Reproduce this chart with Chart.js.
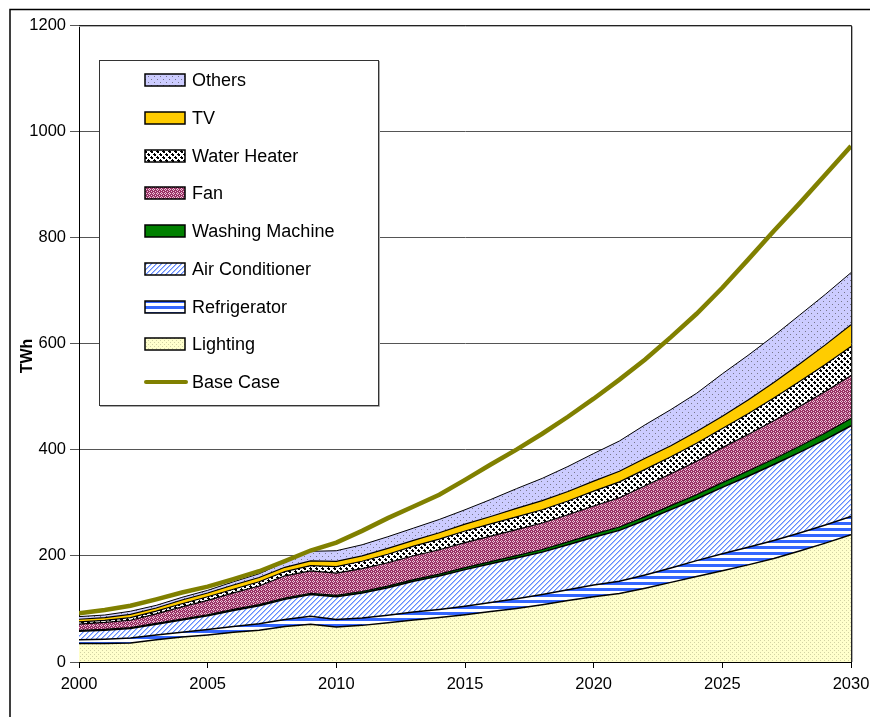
<!DOCTYPE html>
<html>
<head>
<meta charset="utf-8">
<script src="https://cdn.jsdelivr.net/npm/chart.js@4"></script>
<style>
  html, body { margin: 0; padding: 0; background: #fff; }
  #wrap { position: relative; width: 870px; height: 717px; }
</style>
</head>
<body>
<div id="wrap"><canvas id="myChart" width="870" height="717"></canvas></div>
<script>
// electricity use by end use, TWh per year
const years = [2000, 2001, 2002, 2003, 2004, 2005, 2006, 2007, 2008, 2009, 2010,
  2011, 2012, 2013, 2014, 2015, 2016, 2017, 2018, 2019, 2020,
  2021, 2022, 2023, 2024, 2025, 2026, 2027, 2028, 2029, 2030];

const lighting = [35, 35, 36, 42, 47, 51, 56, 60, 67, 71, 66, 69, 74, 79, 84, 89, 95, 101, 108, 116, 123, 129, 139, 150, 161, 172, 183, 195, 209, 224, 240];
const refrigerator = [7, 8, 9, 9, 9, 10, 11, 12, 13, 15, 14, 14, 14, 15, 15, 16, 17, 18, 19, 20, 22, 23, 25, 27, 30, 32, 33, 34, 34, 34, 34];
const airConditioner = [16, 17, 18, 20, 23, 26, 30, 34, 38, 41, 43, 47, 52, 58, 63, 69, 73, 77, 80, 85, 90, 96, 103, 110, 116, 125, 134, 143, 152, 161, 171];
const washingMachine = [1.5, 1.5, 1.6, 1.7, 1.8, 2.0, 2.1, 2.2, 2.4, 2.5, 2.6, 2.8, 3.0, 3.2, 3.5, 3.8, 4.1, 4.5, 4.9, 5.3, 5.8, 6.3, 6.9, 7.5, 8.2, 8.9, 9.7, 10.5, 11.4, 12.4, 13.5];
const fan = [12, 13, 14, 18, 23, 27, 31, 35, 42, 42, 42, 43, 44, 45, 46, 47, 48, 49, 50, 51, 53, 55, 58, 60, 63, 66, 69, 72, 75, 78, 81];
const waterHeater = [4, 4, 5, 5, 6, 7, 7, 8, 8, 10, 12, 14, 16, 18, 20, 22, 23, 24, 25, 26, 28, 30, 31, 32, 34, 36, 39, 43, 47, 51, 55];
const tv = [5, 5, 6, 6, 7, 7, 8, 8, 8, 9, 10, 10, 11, 11, 12, 13, 14, 16, 17, 18, 19, 20, 21, 21, 22, 23, 26, 29, 33, 37, 41];
const others = [5, 5, 6, 5, 5, 5, 6, 7, 10, 18, 20, 21, 22, 23, 25, 27, 32, 37, 42, 47, 52, 57, 63, 68, 72, 80, 84, 88, 92, 95, 98];
const baseCase = [92, 98, 106, 118, 131, 142, 156, 171, 190, 210, 225, 247, 271, 293, 315, 343, 372, 400, 430, 462, 496, 532, 570, 612, 656, 705, 758, 812, 864, 918, 972];

const yTicks = [0, 200, 400, 600, 800, 1000, 1200];
const xTicks = [2000, 2005, 2010, 2015, 2020, 2025, 2030];

const FONT = 'Arial, "Liberation Sans", sans-serif';
const canvas = document.getElementById("myChart");
const ctx = canvas.getContext("2d");

// small tiles used as hatch fills; each cell is [x, y, w, h, colour]
function tile(w, h, bg, cells) {
  const c = document.createElement("canvas");
  c.width = w; c.height = h;
  const g = c.getContext("2d");
  g.fillStyle = bg;
  g.fillRect(0, 0, w, h);
  cells.forEach(p => {
    g.fillStyle = p[4];
    g.fillRect(p[0], p[1], p[2], p[3]);
  });
  return ctx.createPattern(c, "repeat");
}

function px(list, colour) {
  return list.map(p => [p[0], p[1], p[2] || 1, p[3] || 1, colour]);
}

const fills = {
  lighting: tile(4, 4, "#FFFFCC", px([[0, 0], [2, 2]], "#D2D2A4")),
  refrigerator: tile(4, 6, "#FFFFFF", px([[0, 0, 4, 3]], "#3366FF")),
  airConditioner: tile(5, 5, "#FFFFFF",
    px([[4, 0], [3, 1], [2, 2], [1, 3], [0, 4]], "#628AFF").concat(
    px([[0, 0], [4, 1], [3, 2], [2, 3], [1, 4]], "#ABC2FF"))),
  washingMachine: "#008000",
  fan: tile(4, 4, "#993366", px([[1, 0], [0, 1], [2, 1], [1, 2], [3, 3]], "#EEC4D8")),
  waterHeater: tile(6, 6, "#FFFFFF",
    px([[1, 0], [0, 1, 3, 1], [1, 2], [2, 2], [4, 3], [3, 4, 3, 1], [4, 5], [5, 5]], "#000000")),
  tv: "#FFCC00",
  others: tile(6, 6, "#CCCCFF", px([[1, 1], [4, 4]], "#77778A"))
};

const stackSeries = [
  { label: "Lighting", values: lighting, fill: fills.lighting, border: 1.5 },
  { label: "Refrigerator", values: refrigerator, fill: fills.refrigerator, border: 1.5 },
  { label: "Air Conditioner", values: airConditioner, fill: fills.airConditioner, border: 1.5 },
  { label: "Washing Machine", values: washingMachine, fill: fills.washingMachine, border: 1.2 },
  { label: "Fan", values: fan, fill: fills.fan, border: 1.2 },
  { label: "Water Heater", values: waterHeater, fill: fills.waterHeater, border: 1.2 },
  { label: "TV", values: tv, fill: fills.tv, border: 1.2 },
  { label: "Others", values: others, fill: fills.others, border: 1 }
];

const datasets = stackSeries.map((s, i) => ({
  label: s.label,
  data: years.map((yr, j) => ({ x: yr, y: s.values[j] })),
  backgroundColor: s.fill,
  borderColor: "#000",
  borderWidth: s.border,
  pointRadius: 0,
  tension: 0,
  fill: i === 0 ? "origin" : "-1",
  stack: "enduse"
}));

datasets.push({
  label: "Base Case",
  data: years.map((yr, j) => ({ x: yr, y: baseCase[j] })),
  borderColor: "#808000",
  backgroundColor: "#808000",
  borderWidth: 4.5,
  pointRadius: 0,
  tension: 0,
  fill: false,
  stack: "base",
  order: -1
});

const legendOrder = ["Others", "TV", "Water Heater", "Fan", "Washing Machine",
  "Air Conditioner", "Refrigerator", "Lighting", "Base Case"];

// outer frame, plot border and the boxed legend
const decor = {
  id: "decor",
  beforeDraw(chart) {
    const c = chart.ctx;
    c.save();
    c.strokeStyle = "#000";
    c.lineWidth = 1.5;
    c.beginPath();
    c.moveTo(10, 717); c.lineTo(10, 9.5); c.lineTo(870, 9.5);
    c.stroke();
    c.restore();
  },
  afterDraw(chart) {
    const c = chart.ctx;
    const a = chart.chartArea;
    c.save();
    // plot area border (top & right)
    c.strokeStyle = "#B0B0B0";
    c.lineWidth = 1;
    c.beginPath();
    c.moveTo(a.left, a.top + 1.5); c.lineTo(a.right + 1.5, a.top + 1.5); c.lineTo(a.right + 1.5, a.bottom);
    c.stroke();
    c.strokeStyle = "#222";
    c.beginPath();
    c.moveTo(a.left, a.top + 0.5); c.lineTo(a.right + 0.5, a.top + 0.5); c.lineTo(a.right + 0.5, a.bottom);
    c.stroke();

    // legend box
    const bx = 99, by = 60, bw = 279, bh = 345;
    c.fillStyle = "#fff";
    c.fillRect(bx, by, bw, bh);
    c.strokeStyle = "#AAA";
    c.beginPath();
    c.moveTo(bx + bw + 1.5, by + 1); c.lineTo(bx + bw + 1.5, by + bh + 1.5); c.lineTo(bx + 1, by + bh + 1.5);
    c.stroke();
    c.strokeStyle = "#333";
    c.strokeRect(bx + 0.5, by + 0.5, bw, bh);

    c.font = "18px " + FONT;
    c.textBaseline = "middle";
    c.textAlign = "left";
    legendOrder.forEach((name, i) => {
      const ds = chart.data.datasets.find(d => d.label === name);
      const cy = Math.round(80 + i * 37.75);
      if (name === "Base Case") {
        c.strokeStyle = ds.borderColor;
        c.lineWidth = 4;
        c.lineCap = "round";
        c.beginPath();
        c.moveTo(146, cy); c.lineTo(186, cy);
        c.stroke();
        c.lineCap = "butt";
      } else {
        c.fillStyle = ds.backgroundColor;
        c.fillRect(145, cy - 6, 40, 12);
        c.strokeStyle = "#000";
        c.lineWidth = 1.5;
        c.strokeRect(145, cy - 6, 40, 12);
      }
      c.fillStyle = "#000";
      c.fillText(name, 192, cy + 1);
    });

    // axis title
    c.save();
    c.translate(28, 356);
    c.rotate(-Math.PI / 2);
    c.font = "bold 16px " + FONT;
    c.textAlign = "center";
    c.textBaseline = "middle";
    c.fillText("TWh", 0, 0);
    c.restore();
    c.restore();
  }
};

new Chart(canvas, {
  type: "line",
  data: { datasets },
  plugins: [decor],
  options: {
    responsive: false,
    animation: false,
    layout: { padding: { top: 25, right: 19, left: 0, bottom: 0 } },
    plugins: { legend: { display: false }, tooltip: { enabled: false } },
    scales: {
      x: {
        type: "linear",
        min: 2000,
        max: 2030,
        afterBuildTicks: s => { s.ticks = xTicks.map(v => ({ value: v })); },
        afterFit: s => { s.height = 55; s.paddingLeft = 0; s.paddingRight = 0; },
        ticks: {
          callback: v => String(v),
          color: "#000",
          font: { family: FONT, size: 16.5 },
          padding: 7,
          maxRotation: 0
        },
        grid: { drawOnChartArea: false, tickLength: 6, color: "#000" },
        border: { color: "#000", width: 1 }
      },
      y: {
        stacked: true,
        min: 0,
        max: 1200,
        afterBuildTicks: s => { s.ticks = yTicks.map(v => ({ value: v })); },
        afterFit: s => { s.width = 79; s.paddingTop = 0; s.paddingBottom = 0; },
        ticks: {
          callback: v => String(v),
          color: "#000",
          font: { family: FONT, size: 16.5 },
          padding: 4
        },
        grid: { color: "#555", tickLength: 9 },
        border: { color: "#000", width: 1 }
      }
    }
  }
});
</script>
</body>
</html>
